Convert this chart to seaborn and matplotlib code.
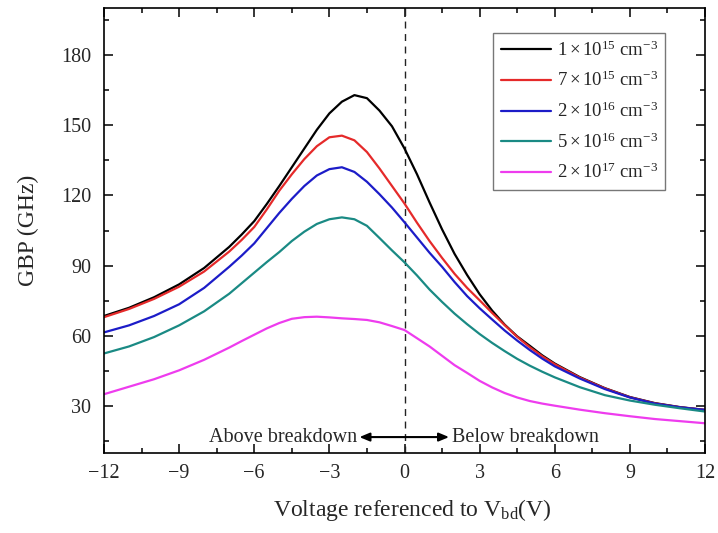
import numpy as np
import pandas as pd
import matplotlib
matplotlib.use("Agg")
import matplotlib.pyplot as plt
from matplotlib.ticker import MultipleLocator
import seaborn as sns

# ---- data ----
voltage = [-12, -11, -10, -9, -8, -7, -6.5, -6, -5.5, -5, -4.5, -4, -3.5, -3, -2.5, -2, -1.5, -1, -0.5,
           0, 0.5, 1, 1.5, 2, 2.5, 3, 3.5, 4, 4.5, 5, 5.5, 6, 7, 8, 9, 10, 11, 12]

gbp_1e15 = [68.5, 72, 76.5, 82, 89, 98, 103.3, 109, 116.3, 124, 132, 140, 148, 155, 160, 162.8, 161.5, 156.2, 149.5,
            140, 129, 117, 105.5, 95, 86, 77.8, 70.8, 64.8, 59.8, 55.8, 51.7, 48.2, 42.4, 37.7, 33.9, 31.3, 29.6, 28.4]
gbp_7e15 = [68, 71.5, 75.8, 81, 87.5, 96, 101, 106.5, 114, 122, 129, 135.5, 141, 144.8, 145.5, 143.5, 138.5, 131.5, 124,
            116.5, 108.3, 100.5, 93.3, 86.5, 80.5, 75.2, 69.8, 64.6, 59.6, 55.2, 51.3, 47.9, 42.2, 37.6, 33.8, 31.2, 29.5, 28.4]
gbp_2e16 = [61.5, 64.5, 68.5, 73.5, 80.5, 89.5, 94.3, 99.5, 106, 112.5, 118.5, 124, 128.5, 131.2, 132, 130, 125.8, 120.5, 114.8,
            108.5, 102, 95.5, 89.5, 83, 77, 71.8, 67, 62.3, 58, 54, 50.3, 47, 41.8, 37.3, 33.7, 31.1, 29.5, 28.4]
gbp_5e16 = [52.5, 55.5, 59.5, 64.5, 70.5, 78, 82.5, 87, 91.5, 95.8, 100.5, 104.5, 107.8, 109.8, 110.6, 109.8, 107, 101.8, 96.5,
            91.4, 85.8, 79.8, 74.5, 69.5, 65, 60.8, 57, 53.5, 50.2, 47.3, 44.7, 42.3, 38.1, 34.7, 32.4, 30.6, 29.1, 27.7]
gbp_2e17 = [35.1, 38.3, 41.5, 45.3, 49.8, 55, 57.8, 60.5, 63.2, 65.5, 67.3, 68, 68.2, 67.9, 67.5, 67.2, 66.8, 65.8, 64.2,
            62.5, 59, 55.5, 51.5, 47.5, 44.2, 40.8, 38, 35.6, 33.7, 32.2, 31.1, 30.2, 28.5, 27, 25.7, 24.5, 23.6, 22.7]

labels = [r"$1\times10^{15}$ cm$^{-3}$",
          r"$7\times10^{15}$ cm$^{-3}$",
          r"$2\times10^{16}$ cm$^{-3}$",
          r"$5\times10^{16}$ cm$^{-3}$",
          r"$2\times10^{17}$ cm$^{-3}$"]
series = [gbp_1e15, gbp_7e15, gbp_2e16, gbp_5e16, gbp_2e17]
colors = ["#000000", "#e52a2a", "#1c1cc8", "#1a8a84", "#ee3cee"]

xticks = [-12, -9, -6, -3, 0, 3, 6, 9, 12]
yticks = [30, 60, 90, 120, 150, 180]

df = pd.concat([pd.DataFrame({"V": voltage, "GBP": s, "label": l})
                for s, l in zip(series, labels)], ignore_index=True)

# ---- style ----
sns.set_style("ticks")
plt.rcParams["font.family"] = ["Liberation Serif", "DejaVu Serif"]
plt.rcParams["mathtext.fontset"] = "custom"
plt.rcParams["mathtext.rm"] = "Liberation Serif"
plt.rcParams["mathtext.it"] = "Liberation Serif:italic"
plt.rcParams["mathtext.bf"] = "Liberation Serif:bold"
plt.rcParams["lines.solid_joinstyle"] = "round"

fig = plt.figure(figsize=(7.18, 5.33), dpi=100)
ax = fig.add_axes([104 / 718, 1 - 453 / 533, 601 / 718, 445 / 533])

sns.lineplot(data=df, x="V", y="GBP", hue="label", palette=colors,
             estimator=None, sort=False, linewidth=1.6, ax=ax)

ax.axvline(0, color="#222222", linestyle=(0, (5, 4)), linewidth=1.0, zorder=1)

ax.set_xlim(-12, 12)
ax.set_ylim(10, 200)
ax.set_xticks(xticks)
ax.set_yticks(yticks)
ax.xaxis.set_minor_locator(MultipleLocator(1.5))
ax.yaxis.set_minor_locator(MultipleLocator(15))
ax.tick_params(which="both", direction="in", top=True, right=True, width=1.1, color="black")
ax.tick_params(which="major", length=6.5, labelsize=14.5)
ax.tick_params(which="minor", length=3.5)
ax.tick_params(axis="x", which="major", pad=8)
ax.tick_params(axis="y", which="major", pad=9)
for sp in ax.spines.values():
    sp.set_linewidth(1.2)
    sp.set_color("black")

ax.set_xlabel(r"Voltage referenced to V$_{\mathrm{bd}}$(V)", fontsize=17)
ax.set_ylabel("GBP (GHz)", fontsize=17)
ax.xaxis.set_label_coords(0.513, -0.098)
ax.yaxis.set_label_coords(-0.108, 0.5)

# arrow annotation
ax.annotate("", xy=(-1.8, 16.8), xytext=(1.78, 16.8),
            arrowprops=dict(arrowstyle="<|-|>,head_length=0.6,head_width=0.25",
                            color="black", lw=1.5, shrinkA=0, shrinkB=0))
ax.text(-1.88, 16.8, "Above breakdown", ha="right", va="center", fontsize=14.5)
ax.text(1.88, 16.8, "Below breakdown", ha="left", va="center", fontsize=14.5)

handles, labs = ax.get_legend_handles_labels()
leg = ax.legend(handles, labs, loc="upper right", bbox_to_anchor=(0.934, 0.944),
                fontsize=13.5, frameon=True, fancybox=False, edgecolor="#777777",
                framealpha=1, handlelength=2.7, handletextpad=0.3,
                labelspacing=0.6, borderpad=0.4, borderaxespad=0)
leg.get_frame().set_linewidth(1.0)

fig.savefig("out.png", dpi=100)
